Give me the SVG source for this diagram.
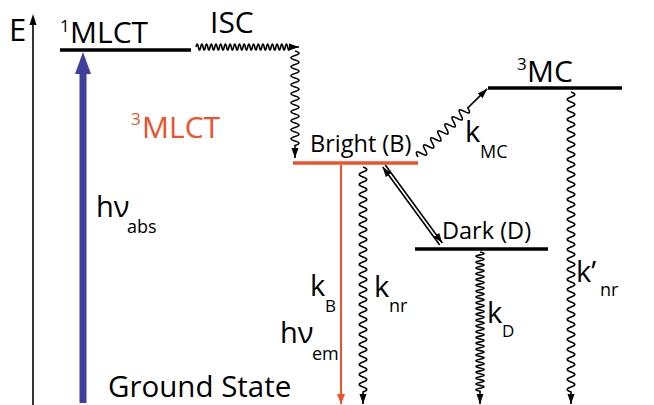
<svg xmlns="http://www.w3.org/2000/svg" width="654" height="405" viewBox="0 0 654 405">
<style>
text{font-family:"Open Sans","Liberation Sans",sans-serif;fill:#000}
.big{font-size:30px}
.lbl{font-size:23.5px}
.k{font-size:29px}
.sub{font-size:18px}
.sup{font-size:17px}
.lvl{stroke:#000;stroke-width:3.5}
.wave{fill:none;stroke:#000;stroke-width:1.6;marker-end:url(#ah)}
.red{fill:#f0502a}
</style>
<defs>
<marker id="ah" markerUnits="userSpaceOnUse" markerWidth="10" markerHeight="8" refX="10" refY="4" orient="auto"><path d="M0,0.5 L10,4 L0,7.5 z" fill="#000"/></marker>
<marker id="ahr" markerUnits="userSpaceOnUse" markerWidth="10" markerHeight="9" refX="10" refY="4.5" orient="auto"><path d="M0,0.5 L10,4.5 L0,8.5 z" fill="#f0502a"/></marker>
</defs>

<g id="energy-axis">
<line x1="33" y1="405" x2="33" y2="24" stroke="#000" stroke-width="1.6"/>
<polygon points="33,14 29.5,25 36.5,25" fill="#000"/>
<text class="big" x="9" y="41" style="font-size:31px">E</text>
</g>

<g id="state-1MLCT">
<line class="lvl" x1="60" y1="50" x2="191" y2="50"/>
<text x="60" y="32" class="sup">1</text>
<text x="70" y="43" class="big">MLCT</text>
</g>

<g id="label-3MLCT">
<text x="131" y="125" class="sup red">3</text>
<text x="142" y="138" class="big red">MLCT</text>
</g>

<g id="state-bright">
<line x1="293" y1="163" x2="418" y2="163" stroke="#f0502a" stroke-width="3.5"/>
<text x="310" y="152" class="lbl">Bright (B)</text>
</g>

<g id="state-3MC">
<line class="lvl" x1="488" y1="88" x2="622" y2="88"/>
<text x="517" y="70" class="sup">3</text>
<text x="527" y="82" class="big">MC</text>
</g>

<g id="state-dark">
<line class="lvl" x1="415" y1="249" x2="548" y2="249"/>
<text x="442" y="239" class="lbl">Dark (D)</text>
</g>

<g id="ground-state">
<text x="108" y="397" class="k" style="font-size:29.5px">Ground State</text>
</g>

<g id="connectors">
<!-- absorption -->
<line x1="83" y1="403" x2="83" y2="70" stroke="#3f3f9c" stroke-width="7"/>
<polygon points="83,52 75,74 91,74" fill="#3f3f9c"/>
<!-- ISC -->
<path class="wave" d="M196,47 q1.175,-6 2.35,0 t2.35,0 t2.35,0 t2.35,0 t2.35,0 t2.35,0 t2.35,0 t2.35,0 t2.35,0 t2.35,0 t2.35,0 t2.35,0 t2.35,0 t2.35,0 t2.35,0 t2.35,0 t2.35,0 t2.35,0 t2.35,0 t2.35,0 t2.35,0 t2.35,0 t2.35,0 t2.35,0 t2.35,0 t2.35,0 t2.35,0 t2.35,0 t2.35,0 t2.35,0 t2.35,0 t2.35,0 t2.35,0 t2.35,0 t2.35,0 t2.35,0 t2.35,0 t2.35,0 t2.35,0 t2.35,0 H299"/>
<path class="wave" d="M295,51 q8,2.25 0,4.5 t0,4.5 t0,4.5 t0,4.5 t0,4.5 t0,4.5 t0,4.5 t0,4.5 t0,4.5 t0,4.5 t0,4.5 t0,4.5 t0,4.5 t0,4.5 t0,4.5 t0,4.5 t0,4.5 t0,4.5 t0,4.5 t0,4.5 t0,4.5 V158"/>
<!-- kMC -->
<g transform="translate(418,157) rotate(-44.6)">
<path class="wave" d="M0,0 q2.5,-9 5,0 t5,0 t5,0 t5,0 t5,0 t5,0 t5,0 t5,0 t5,0 t5,0 t5,0 t5,0 t5,0 t5,0 H97"/>
</g>
<!-- emission kB -->
<line x1="341" y1="165" x2="341" y2="404" stroke="#f0502a" stroke-width="2" marker-end="url(#ahr)"/>
<!-- knr -->
<path class="wave" d="M363,167 q7.5,2.5 0,5 t0,5 t0,5 t0,5 t0,5 t0,5 t0,5 t0,5 t0,5 t0,5 t0,5 t0,5 t0,5 t0,5 t0,5 t0,5 t0,5 t0,5 t0,5 t0,5 t0,5 t0,5 t0,5 t0,5 t0,5 t0,5 t0,5 t0,5 t0,5 t0,5 t0,5 t0,5 t0,5 t0,5 t0,5 t0,5 t0,5 t0,5 t0,5 t0,5 t0,5 t0,5 t0,5 t0,5 t0,5 V404"/>
<!-- k'nr -->
<path class="wave" d="M571,92 q7.5,2.5 0,5 t0,5 t0,5 t0,5 t0,5 t0,5 t0,5 t0,5 t0,5 t0,5 t0,5 t0,5 t0,5 t0,5 t0,5 t0,5 t0,5 t0,5 t0,5 t0,5 t0,5 t0,5 t0,5 t0,5 t0,5 t0,5 t0,5 t0,5 t0,5 t0,5 t0,5 t0,5 t0,5 t0,5 t0,5 t0,5 t0,5 t0,5 t0,5 t0,5 t0,5 t0,5 t0,5 t0,5 t0,5 t0,5 t0,5 t0,5 t0,5 t0,5 t0,5 t0,5 t0,5 t0,5 t0,5 t0,5 t0,5 t0,5 t0,5 t0,5 V404"/>
<!-- kD -->
<path class="wave" d="M480,252 q8,1.45 0,2.9 t0,2.9 t0,2.9 t0,2.9 t0,2.9 t0,2.9 t0,2.9 t0,2.9 t0,2.9 t0,2.9 t0,2.9 t0,2.9 t0,2.9 t0,2.9 t0,2.9 t0,2.9 t0,2.9 t0,2.9 t0,2.9 t0,2.9 t0,2.9 t0,2.9 t0,2.9 t0,2.9 t0,2.9 t0,2.9 t0,2.9 t0,2.9 t0,2.9 t0,2.9 t0,2.9 t0,2.9 t0,2.9 t0,2.9 t0,2.9 t0,2.9 t0,2.9 t0,2.9 t0,2.9 t0,2.9 t0,2.9 t0,2.9 t0,2.9 t0,2.9 t0,2.9 t0,2.9 t0,2.9 t0,2.9 V404"/>
<!-- B <-> D equilibrium -->
<line x1="439.7" y1="245" x2="382.7" y2="167" stroke="#000" stroke-width="1.6" marker-end="url(#ah)"/>
<line x1="385.3" y1="165" x2="442.3" y2="243" stroke="#000" stroke-width="1.6" marker-end="url(#ah)"/>
</g>

<g id="rate-labels">
<text x="210" y="33" class="big">ISC</text>
<text x="96" y="217" class="k">hν</text><text x="127" y="233" class="sub">abs</text>
<text x="465" y="142" class="k">k</text><text x="480" y="158" class="sub">MC</text>
<text x="310" y="296" class="k">k</text><text x="325" y="312" class="sup">B</text>
<text x="280" y="343" class="k">hν</text><text x="312" y="360" class="sub">em</text>
<text x="374" y="297" class="k">k</text><text x="389" y="312" class="sub">nr</text>
<text x="487" y="323" class="k">k</text><text x="502" y="337" class="sup">D</text>
<text x="576" y="282" class="k">k’</text><text x="600" y="296" class="sub">nr</text>
</g>
</svg>
